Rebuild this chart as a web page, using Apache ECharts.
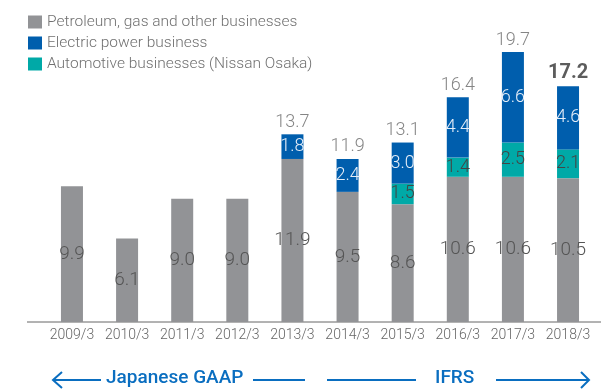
<!DOCTYPE html>
<html><head><meta charset="utf-8">
<script src="https://cdn.jsdelivr.net/npm/echarts@6/dist/echarts.min.js"></script>
<style>html,body{margin:0;padding:0;background:#fff}#c{width:601px;height:389px}</style>
</head><body><div id="c"></div>
<script>
const categories = ['2009/3','2010/3','2011/3','2012/3','2013/3','2014/3','2015/3','2016/3','2017/3','2018/3'];
const petroleum = [9.9, 6.1, 9.0, 9.0, 11.9, 9.5, 8.6, 10.6, 10.6, 10.5];
const automotive = [null, null, null, null, null, null, 1.5, 1.4, 2.5, 2.1];
const electric = [null, null, null, null, 1.8, 2.4, 3.0, 4.4, 6.6, 4.6];
const totals = [null, null, null, null, 13.7, 11.9, 13.1, 16.4, 19.7, 17.2];
const seriesNames = ['Petroleum, gas and other businesses','Electric power business','Automotive businesses (Nissan Osaka)'];
const leftLabel = 'Japanese GAAP';
const rightLabel = 'IFRS';

const FONT = 'Roboto';
const chart = echarts.init(document.getElementById('c'), null, {renderer:'canvas'});
const fmt1 = p => (p.value == null ? '' : Number(p.value).toFixed(1));
const lastIdx = totals.length - 1;
const blue = '#0a6ec0';
chart.setOption({
  animation:false,
  textStyle:{fontFamily:FONT},
  legend:{
    orient:'vertical', left:28, top:14, itemWidth:14, itemHeight:13, itemGap:5,
    icon:'rect', padding:0,
    data:[seriesNames[0], seriesNames[1], seriesNames[2]],
    textStyle:{color:'#707070', fontSize:15.5, lineHeight:13, fontFamily:FONT, fontWeight:300}
  },
  grid:{left:44.4, right:5.4, top:48, bottom:67},
  xAxis:{type:'category', data:categories,
    axisLine:{show:false}, axisTick:{show:false},
    axisLabel:{interval:0, color:'#666', fontSize:14, fontFamily:FONT, fontWeight:300, margin:6}},
  yAxis:{type:'value', min:0, max:20, show:false, splitLine:{show:false}},
  series:[
    {name:seriesNames[0], type:'bar', stack:'s', data:petroleum, barWidth:22,
      itemStyle:{color:'#929396'},
      label:{show:true, position:'inside', color:'#555', fontSize:19, fontWeight:300, fontFamily:FONT, formatter:fmt1}},
    {name:seriesNames[2], type:'bar', stack:'s', data:automotive, barWidth:22,
      itemStyle:{color:'#00a9a7'},
      label:{show:true, position:'inside', color:'#444', fontSize:18, fontWeight:300, fontFamily:FONT, formatter:fmt1}},
    {name:seriesNames[1], type:'bar', stack:'s', data:electric, barWidth:22,
      itemStyle:{color:'#005ead'},
      label:{show:true, position:'inside', color:'#e6eef8', fontSize:18, fontWeight:300, fontFamily:FONT, formatter:fmt1}},
    {name:'total', type:'scatter', data:totals, symbolSize:0, silent:true,
      label:{show:true, position:'top', distance:3,
        formatter: p => p.value == null ? '' : (p.dataIndex === lastIdx ? '{b|' + p.value.toFixed(1) + '}' : '{n|' + p.value.toFixed(1) + '}'),
        rich:{
          n:{color:'#666', fontSize:18, fontWeight:300, fontFamily:FONT},
          b:{color:'#333', fontSize:20, fontWeight:'bold', fontFamily:FONT}
        }}}
  ],
  graphic:[
    {type:'line', shape:{x1:27, y1:322, x2:601, y2:322}, style:{stroke:'#666', lineWidth:1}},
    {type:'line', shape:{x1:53, y1:380, x2:101, y2:380}, style:{stroke:blue, lineWidth:2}},
    {type:'polyline', shape:{points:[[62,372],[53,380],[62,388]]}, style:{stroke:blue, lineWidth:2, fill:null}},
    {type:'text', left:106, top:369, style:{text:leftLabel, fill:blue, fontSize:19, fontFamily:FONT, fontWeight:500}},
    {type:'line', shape:{x1:253, y1:380, x2:305, y2:380}, style:{stroke:blue, lineWidth:2}},
    {type:'line', shape:{x1:327, y1:380, x2:416, y2:380}, style:{stroke:blue, lineWidth:2}},
    {type:'text', left:435, top:369, style:{text:rightLabel, fill:blue, fontSize:19, fontFamily:FONT, fontWeight:500}},
    {type:'line', shape:{x1:496, y1:380, x2:589, y2:380}, style:{stroke:blue, lineWidth:2}},
    {type:'polyline', shape:{points:[[581,372],[589,380],[581,388]]}, style:{stroke:blue, lineWidth:2, fill:null}}
  ]
});
</script></body></html>
